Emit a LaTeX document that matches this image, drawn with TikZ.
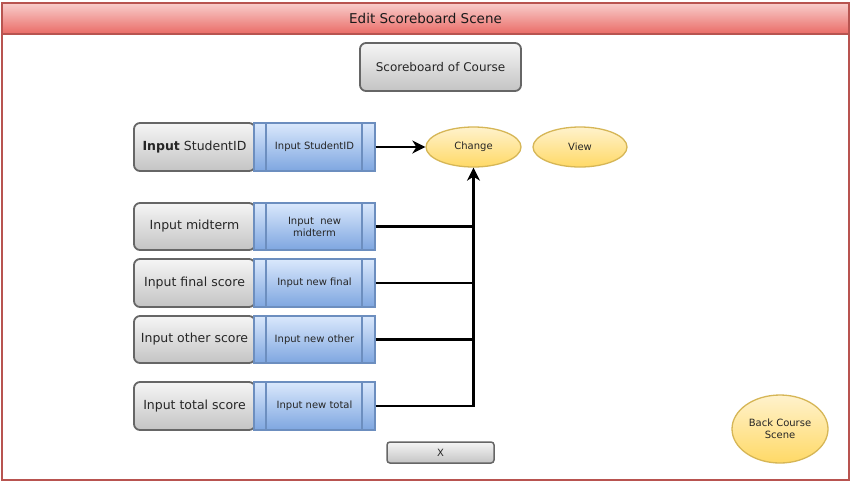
\documentclass[tikz,border=0pt]{standalone}
\usepackage{fontspec}
\setmainfont{DejaVu Sans}
\usetikzlibrary{shapes.geometric,arrows.meta,calc}
\definecolor{redborder}{HTML}{B85450}
\definecolor{red1}{HTML}{F8CECC}
\definecolor{red2}{HTML}{EA6B66}
\definecolor{gray1}{HTML}{F5F5F5}
\definecolor{gray2}{HTML}{C4C4C4}
\definecolor{grayborder}{HTML}{666666}
\definecolor{blue1}{HTML}{DAE8FC}
\definecolor{blue2}{HTML}{7EA6E0}
\definecolor{blueborder}{HTML}{6C8EBF}
\definecolor{yel1}{HTML}{FFF2CC}
\definecolor{yel2}{HTML}{FFD966}
\definecolor{yelborder}{HTML}{D6B656}
\tikzset{
  graybtn/.style={draw=grayborder, line width=1.8pt, rounded corners=6pt,
    top color=gray1, bottom color=gray2, minimum width=121pt, minimum height=48pt,
    inner sep=0pt, align=center, font=\fontsize{12.5}{14}\selectfont, text=black!85},
  bluebox/.style={draw=blueborder, line width=1.3pt, top color=blue1, bottom color=blue2,
    minimum width=121pt, minimum height=48pt, inner sep=0pt, align=center,
    font=\fontsize{10}{12}\selectfont, text=black!85,
    path picture={
      \draw[blueborder, line width=1.1pt]
        ([xshift=12pt]path picture bounding box.north west) --
        ([xshift=12pt]path picture bounding box.south west);
      \draw[blueborder, line width=1.1pt]
        ([xshift=-13pt]path picture bounding box.north east) --
        ([xshift=-13pt]path picture bounding box.south east);}},
  yell/.style={ellipse, draw=yelborder, line width=1.3pt, top color=yel1, bottom color=yel2,
    inner sep=0pt, align=center, font=\fontsize{10}{12}\selectfont, text=black!85},
  conn/.style={line width=2.9pt, black},
  arr/.style={conn, -{Stealth[length=13pt,width=13pt,inset=4pt]}}
}
\begin{document}
\begin{tikzpicture}[x=1pt,y=-1pt]
\useasboundingbox (0,0) rectangle (853,483);
\fill[white] (0,0) rectangle (853,483);
\draw[redborder, line width=1.8pt] (2,3) rectangle (849,480);
\node[draw=redborder, line width=1.8pt, top color=red1, bottom color=red2,
  minimum width=847pt, minimum height=31pt, inner sep=0pt,
  font=\fontsize{13.5}{15}\selectfont, text=black!90] (title) at (425.5,18.5) {Edit Scoreboard Scene};

\node[graybtn, minimum width=161pt, minimum height=48pt, font=\fontsize{12}{14}\selectfont] (sc) at (440.5,67) {Scoreboard of Course};

\node[graybtn] (g1) at (194.5,147) {\textbf{Input} StudentID};
\node[graybtn, minimum height=47pt] (g2) at (194.5,226.5) {Input midterm};
\node[graybtn] (g3) at (194.5,283) {Input final score};
\node[graybtn, minimum height=47pt] (g4) at (194.5,339.5) {Input other score};
\node[graybtn] (g5) at (194.5,406) {Input total score};

\node[bluebox] (b1) at (314.5,147) {Input StudentID};
\node[bluebox, minimum height=47pt] (b2) at (314.5,226.5) {Input\ \ new\\midterm};
\node[bluebox] (b3) at (314.5,283) {Input new final};
\node[bluebox, minimum height=47pt] (b4) at (314.5,339.5) {Input new other};
\node[bluebox] (b5) at (314.5,406) {Input new total};

\node[yell, minimum width=95pt, minimum height=40pt] (chg) at (473.5,147) {Change};
\node[yell, minimum width=94pt, minimum height=40pt] (view) at (580,147) {View};
\node[yell, minimum width=96pt, minimum height=68pt] (back) at (780,429) {Back Course\\Scene};

\node[graybtn, rounded corners=3pt, line width=1.5pt, minimum width=107pt, minimum height=21pt,
  font=\fontsize{10}{12}\selectfont] (x) at (440.5,452.5) {X};

\draw[arr] (b1.east) -- (chg.west);
\draw[conn] (b2.east) -- (b2.east -| chg.south);
\draw[conn] (b3.east) -- (b3.east -| chg.south);
\draw[conn] (b4.east) -- (b4.east -| chg.south);
\draw[arr] (b5.east) -| (chg.south);
\end{tikzpicture}
\end{document}
